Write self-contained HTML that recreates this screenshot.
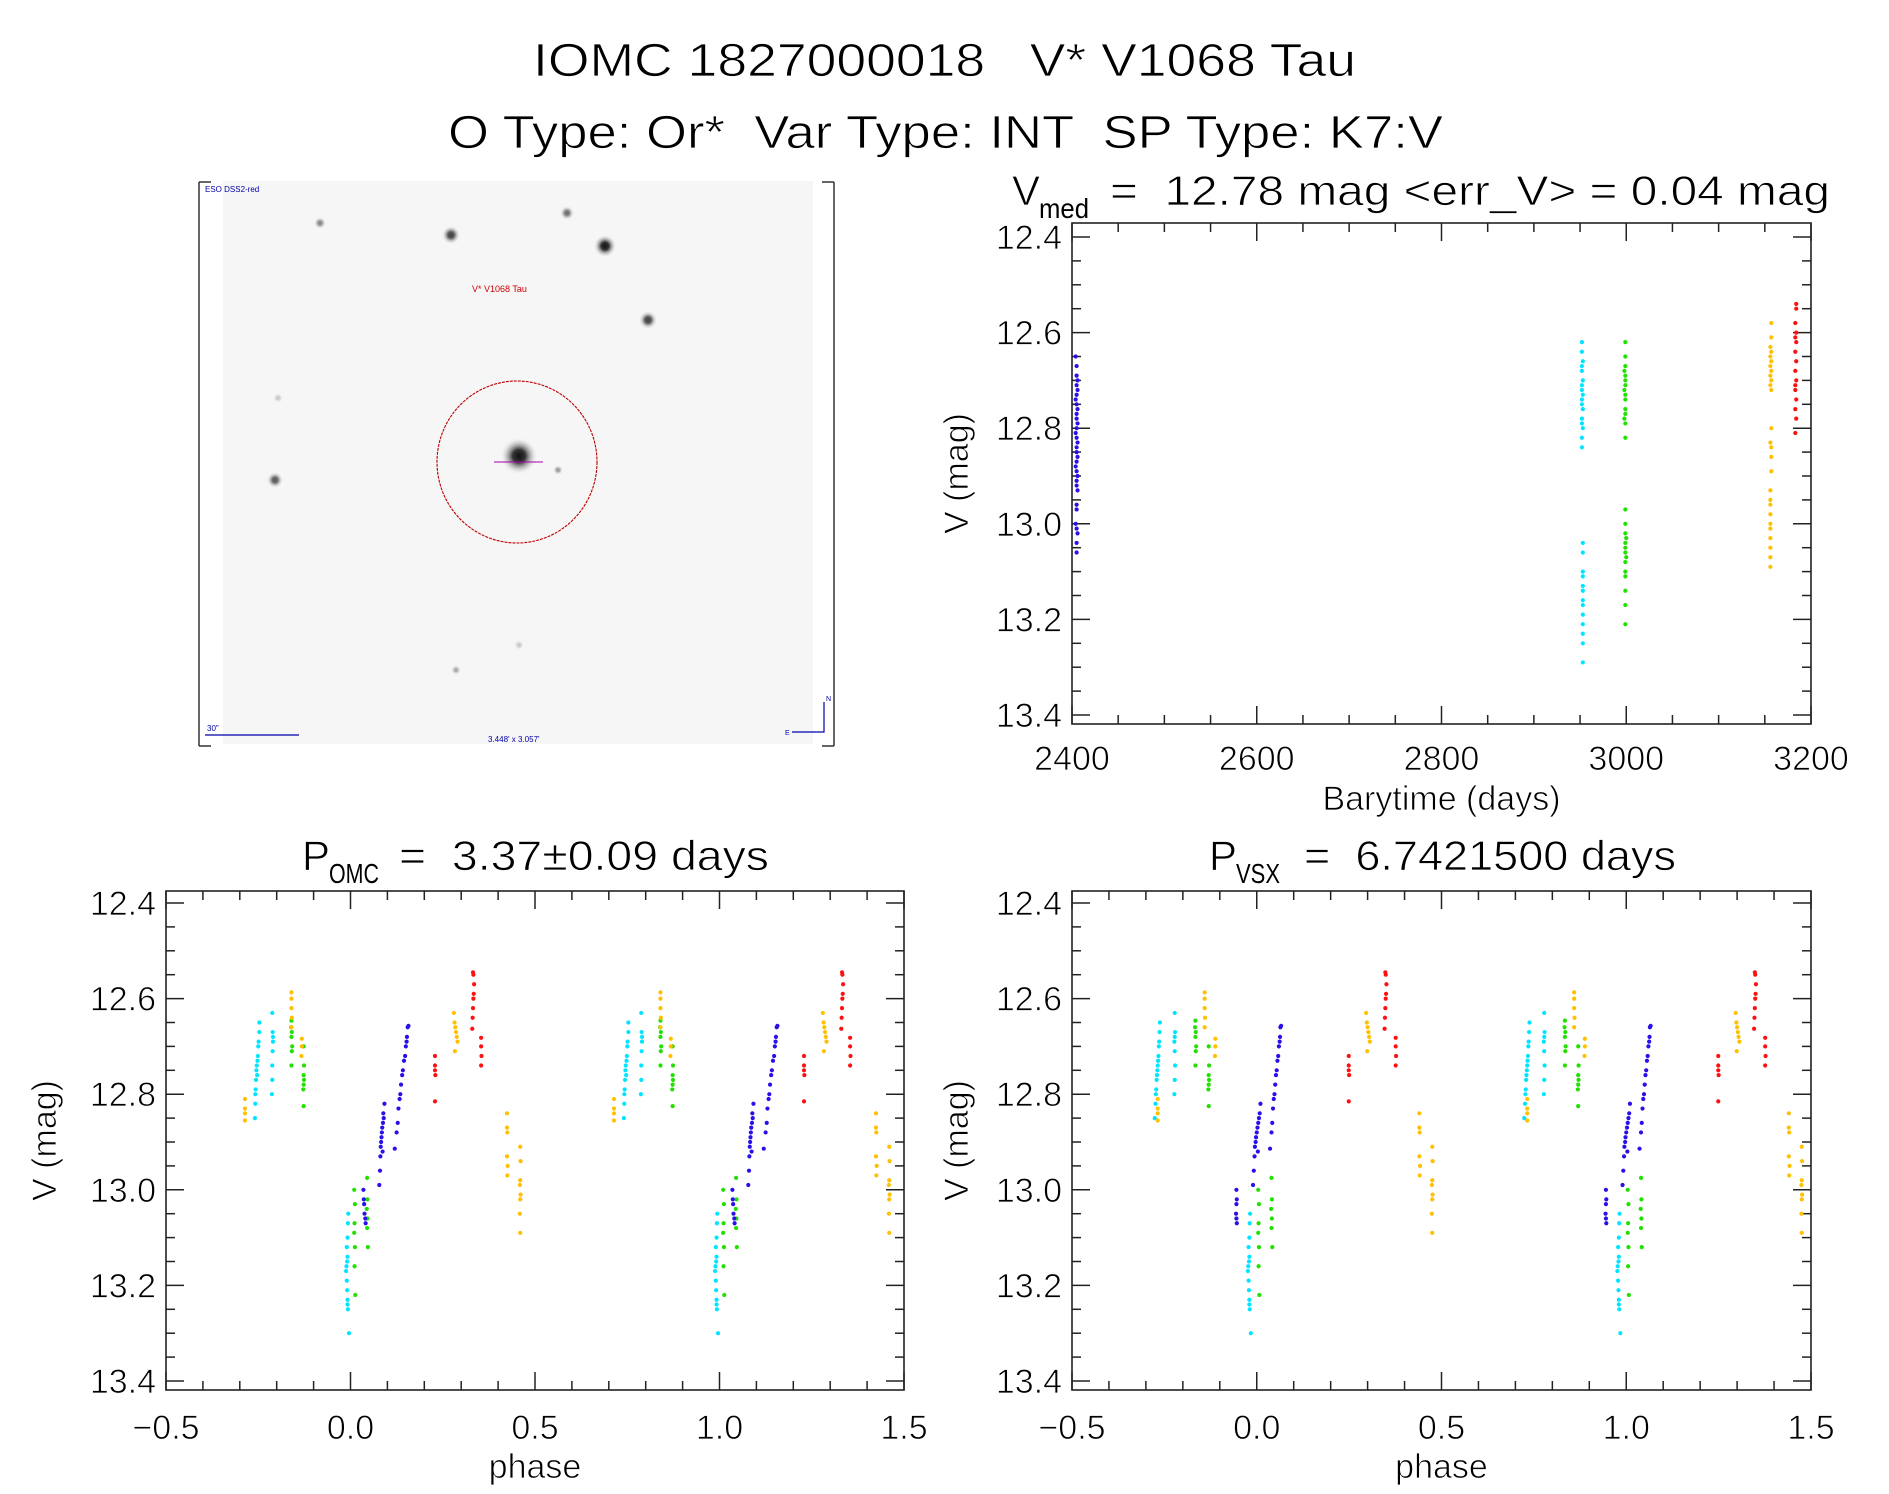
<!DOCTYPE html>
<html><head><meta charset="utf-8"><style>
html,body{margin:0;padding:0;background:#fff;}
svg{display:block;font-family:"Liberation Sans",sans-serif;}
text{white-space:pre;}
.thin{stroke:#fff;stroke-width:0.8px;}
</style></head><body>
<svg id="fig" width="1889" height="1494" viewBox="0 0 1889 1494" xmlns="http://www.w3.org/2000/svg">
<defs>
<radialGradient id="star"><stop offset="0" stop-color="#111"/><stop offset="0.35" stop-color="#333"/><stop offset="1" stop-color="#ddd" stop-opacity="0"/></radialGradient>
</defs>
<g fill="#000">
<text class="thin" x="533" y="76" font-size="46" textLength="823" lengthAdjust="spacingAndGlyphs">IOMC 1827000018   V* V1068 Tau</text>
<text class="thin" x="448" y="148" font-size="46" textLength="995" lengthAdjust="spacingAndGlyphs">O Type: Or*  Var Type: INT  SP Type: K7:V</text>
<text class="thin" x="1012" y="205" font-size="42">V</text>
<text x="1039" y="218" font-size="28" textLength="50" lengthAdjust="spacingAndGlyphs">med</text>
<text class="thin" x="1110" y="205" font-size="42" textLength="720" lengthAdjust="spacingAndGlyphs">=  12.78 mag &lt;err_V&gt; = 0.04 mag</text>
<text class="thin" x="302" y="870" font-size="42">P</text>
<text x="329" y="883" font-size="28" textLength="50" lengthAdjust="spacingAndGlyphs">OMC</text>
<text class="thin" x="399" y="870" font-size="42" textLength="370" lengthAdjust="spacingAndGlyphs">=  3.37±0.09 days</text>
<text class="thin" x="1209" y="870" font-size="42">P</text>
<text x="1236" y="883" font-size="28" textLength="44" lengthAdjust="spacingAndGlyphs">VSX</text>
<text class="thin" x="1304" y="870" font-size="42" textLength="372" lengthAdjust="spacingAndGlyphs">=  6.7421500 days</text>
</g>
<g>
<rect x="223" y="181" width="590" height="563" fill="#f6f6f6"/>
<line x1="199" y1="182" x2="199" y2="746" stroke="#333" stroke-width="1.5"/>
<line x1="199" y1="182" x2="211" y2="182" stroke="#333" stroke-width="1.5"/>
<line x1="199" y1="746" x2="211" y2="746" stroke="#333" stroke-width="1.5"/>
<line x1="834" y1="182" x2="834" y2="746" stroke="#333" stroke-width="1.5"/>
<line x1="822" y1="182" x2="834" y2="182" stroke="#333" stroke-width="1.5"/>
<line x1="822" y1="746" x2="834" y2="746" stroke="#333" stroke-width="1.5"/>
<circle cx="320" cy="223" r="6" fill="url(#star)" opacity="0.5"/>
<circle cx="451" cy="235" r="9" fill="url(#star)" opacity="0.8"/>
<circle cx="567" cy="213" r="7" fill="url(#star)" opacity="0.6"/>
<circle cx="605" cy="246" r="11" fill="url(#star)"/>
<circle cx="648" cy="320" r="9" fill="url(#star)" opacity="0.8"/>
<circle cx="275" cy="480" r="8" fill="url(#star)" opacity="0.7"/>
<circle cx="519" cy="456" r="18" fill="url(#star)"/>
<circle cx="558" cy="470" r="5" fill="url(#star)" opacity="0.4"/>
<circle cx="456" cy="670" r="5" fill="url(#star)" opacity="0.35"/>
<circle cx="278" cy="398" r="5" fill="url(#star)" opacity="0.2"/>
<circle cx="519" cy="645" r="5" fill="url(#star)" opacity="0.2"/>
<ellipse cx="517" cy="462" rx="80" ry="81" fill="none" stroke="#b00" stroke-width="1.1" stroke-dasharray="3,1"/>
<line x1="494" y1="462" x2="543" y2="462" stroke="#a0a" stroke-width="1"/>
<text x="472" y="292" font-size="9" fill="#c00">V* V1068 Tau</text>
<text x="205" y="192" font-size="8" fill="#00a">ESO DSS2-red</text>
<text x="207" y="731" font-size="8" fill="#00a">30"</text>
<line x1="205" y1="735" x2="299" y2="735" stroke="#00a" stroke-width="1.2"/>
<text x="488" y="742" font-size="8" fill="#00a">3.448' x 3.057'</text>
<path d="M824 702 L824 732 L792 732" fill="none" stroke="#00a" stroke-width="1.2"/>
<text x="826" y="701" font-size="7" fill="#00a">N</text><text x="785" y="735" font-size="7" fill="#00a">E</text>
</g>
<g id="plots"></g>
</svg>
<script>
// ---- Time series data ----
const tsBlueT = [2404,2405,2405,2406,2405,2406,2405,2404,2405,2406,2405,2405,2406,2405,2404,2405,2406,2405,2405,2406,2405,2404,2405,2406,2405,2405,2406,2405,2405,2404,2405,2406,2405,2405];
const tsBlueV = [12.65,12.67,12.69,12.70,12.71,12.72,12.73,12.74,12.75,12.76,12.77,12.78,12.79,12.80,12.81,12.82,12.83,12.84,12.85,12.86,12.87,12.88,12.89,12.90,12.91,12.92,12.93,12.96,12.97,13.00,13.01,13.02,13.04,13.06];
const tsCyanT = [2952,2952,2953,2952,2952,2953,2952,2952,2953,2952,2952,2953,2952,2952,2953,2952,2952,2953,2953,2953,2953,2953,2953,2953,2953,2953,2953,2953,2953,2953];
const tsCyanV = [12.62,12.64,12.66,12.67,12.68,12.70,12.71,12.72,12.73,12.74,12.75,12.76,12.78,12.79,12.80,12.82,12.84,13.04,13.06,13.10,13.11,13.13,13.14,13.16,13.17,13.19,13.21,13.23,13.25,13.29];
const tsGreenT = [2999,2999,2999,2998,2999,2999,2999,2998,2999,2999,2999,2999,2998,2999,2999,2999,2999,2999,3000,2999,2999,2999,3000,2999,2999,2999,2999,2999,2999];
const tsGreenV = [12.62,12.65,12.67,12.68,12.69,12.70,12.71,12.72,12.73,12.74,12.76,12.77,12.78,12.79,12.82,12.97,13.00,13.02,13.03,13.04,13.05,13.06,13.07,13.08,13.10,13.11,13.14,13.17,13.21];
const tsOrangeT = [3157,3157,3156,3157,3156,3157,3156,3157,3156,3157,3156,3157,3157,3156,3157,3157,3157,3156,3156,3156,3156,3156,3156,3156,3156,3156,3156];
const tsOrangeV = [12.58,12.61,12.63,12.64,12.65,12.66,12.67,12.68,12.69,12.70,12.71,12.72,12.80,12.83,12.84,12.86,12.89,12.93,12.95,12.96,12.98,13.00,13.01,13.03,13.05,13.07,13.09];
const tsRedT = [3184,3184,3183,3184,3183,3184,3183,3184,3183,3184,3183,3183,3184,3183,3184,3183];
const tsRedV = [12.54,12.55,12.58,12.60,12.61,12.62,12.64,12.66,12.68,12.70,12.71,12.72,12.74,12.76,12.78,12.81];

// ---- Phase data (OMC period) ----
const omcCyanP = [-0.247,-0.247,-0.249,-0.250,-0.251,-0.252,-0.254,-0.255,-0.253,-0.256,-0.257,-0.258,-0.258,-0.259,-0.212,-0.211,-0.210,-0.210,-0.211,-0.212,-0.212,-0.213,-0.006,-0.007,-0.008,-0.010,-0.008,-0.009,-0.011,-0.012,-0.010,-0.009,-0.008,-0.008,-0.007,-0.004];
const cyanV = [12.65,12.67,12.69,12.70,12.72,12.73,12.74,12.75,12.76,12.77,12.79,12.80,12.82,12.85,12.63,12.67,12.68,12.69,12.71,12.74,12.77,12.80,13.05,13.07,13.10,13.12,13.14,13.15,13.16,13.17,13.19,13.21,13.23,13.24,13.25,13.30];
const omcGreenP = [-0.160,-0.161,-0.159,-0.160,-0.158,-0.159,-0.160,-0.127,-0.126,-0.127,-0.126,-0.127,-0.128,-0.127,0.010,0.012,0.011,0.010,0.012,0.011,0.013,0.045,0.046,0.044,0.046,0.045,0.047];
const greenV = [12.646,12.66,12.67,12.68,12.70,12.71,12.74,12.70,12.74,12.76,12.77,12.78,12.79,12.825,13.00,13.03,13.07,13.09,13.12,13.16,13.22,12.975,13.02,13.04,13.06,13.08,13.12];
const omcOrangeP = [-0.286,-0.286,-0.286,-0.286,-0.160,-0.160,-0.160,-0.159,-0.160,-0.132,-0.132,-0.133,0.280,0.282,0.284,0.286,0.288,0.290,0.283,0.424,0.424,0.425,0.424,0.426,0.425,0.460,0.461,0.460,0.459,0.461,0.460,0.459,0.460];
const orangeV = [12.81,12.83,12.84,12.855,12.587,12.60,12.62,12.64,12.66,12.684,12.70,12.72,12.63,12.65,12.66,12.67,12.68,12.69,12.71,12.84,12.87,12.88,12.93,12.95,12.97,12.91,12.94,12.98,12.99,13.01,13.02,13.05,13.09];
const omcBlueP = [0.035,0.036,0.037,0.038,0.040,0.041,0.078,0.080,0.082,0.084,0.085,0.086,0.088,0.090,0.083,0.087,0.089,0.092,0.081,0.120,0.125,0.128,0.130,0.133,0.135,0.137,0.140,0.142,0.145,0.148,0.150,0.152,0.155,0.157,0.153];
const blueV = [13.00,13.02,13.03,13.05,13.06,13.07,12.99,12.96,12.91,12.89,12.88,12.87,12.86,12.85,12.90,12.92,12.84,12.82,12.93,12.914,12.88,12.86,12.83,12.81,12.80,12.78,12.76,12.75,12.73,12.72,12.70,12.69,12.66,12.657,12.68];
const omcRedP = [0.229,0.229,0.229,0.230,0.229,0.330,0.331,0.332,0.333,0.334,0.335,0.333,0.332,0.354,0.354,0.355,0.354];
const redV = [12.72,12.74,12.75,12.76,12.815,12.663,12.64,12.62,12.60,12.59,12.57,12.55,12.545,12.682,12.70,12.72,12.74];

// ---- Phase data (VSX period) ----
const vsxCyanP = [-0.262,-0.263,-0.264,-0.265,-0.266,-0.267,-0.268,-0.269,-0.270,-0.271,-0.272,-0.273,-0.274,-0.276,-0.222,-0.221,-0.222,-0.223,-0.222,-0.221,-0.222,-0.223,-0.018,-0.019,-0.020,-0.022,-0.020,-0.021,-0.023,-0.024,-0.022,-0.021,-0.020,-0.020,-0.019,-0.016];
const vsxGreenP = [-0.166,-0.167,-0.165,-0.166,-0.164,-0.165,-0.166,-0.130,-0.129,-0.130,-0.129,-0.130,-0.131,-0.130,0.004,0.006,0.005,0.004,0.006,0.005,0.007,0.040,0.041,0.039,0.041,0.040,0.042];
const vsxOrangeP = [-0.268,-0.268,-0.268,-0.268,-0.141,-0.141,-0.141,-0.140,-0.141,-0.112,-0.112,-0.113,0.296,0.298,0.300,0.302,0.304,0.306,0.299,0.440,0.440,0.441,0.440,0.442,0.441,0.475,0.476,0.475,0.474,0.476,0.475,0.474,0.475];
const vsxBlueP = [-0.055,-0.054,-0.055,-0.056,-0.055,-0.054,-0.010,-0.008,-0.005,-0.002,0.000,0.002,0.004,0.006,-0.003,0.003,0.008,0.010,-0.006,0.036,0.040,0.042,0.044,0.046,0.048,0.050,0.052,0.054,0.056,0.058,0.060,0.062,0.064,0.066,0.063];
const vsxRedP = [0.249,0.249,0.249,0.250,0.249,0.346,0.347,0.348,0.349,0.350,0.351,0.349,0.348,0.376,0.376,0.377,0.376];

const COL = {blue:'#2a10e8', cyan:'#00e5ff', green:'#22e000', orange:'#ffc000', red:'#ff1010'};
const NS = 'http://www.w3.org/2000/svg';
const root = document.getElementById('plots');
function mk(tag, attrs, parent){const e=document.createElementNS(NS,tag);for(const k in attrs)e.setAttribute(k,attrs[k]);(parent||root).appendChild(e);return e;}

function panel(name, box, xDom, yDom, xMaj, xMin, yMaj, yMin, xFmt, xTitle, yTitleX){
  const g = mk('g',{});
  
  
  const xs = v => box.x0 + (v - xDom[0])/(xDom[1]-xDom[0])*(box.x1-box.x0);
  const ys = v => box.yt + (v - yDom[0])/(yDom[1]-yDom[0])*(box.yb-box.yt);
  const fr = mk('rect',{x:box.x0,y:box.y0,width:box.x1-box.x0,height:box.y1-box.y0,fill:'none',stroke:'#222','stroke-width':1.6},g);
  
  
  const tk = mk('g',{stroke:'#222','stroke-width':1.5},g);
  const eps=1e-9;
  for(let v=xDom[0]; v<=xDom[1]+eps; v+=xMin){
    const maj = Math.abs(Math.round(v/xMaj)*xMaj - v) < xMin*0.01;
    const L = maj?18:9, x=xs(v);
    mk('line',{x1:x,y1:box.y1,x2:x,y2:box.y1-L},tk);
    mk('line',{x1:x,y1:box.y0,x2:x,y2:box.y0+L},tk);
    if(maj){
      const t = mk('text',{x:x,y:box.lblY,'font-size':34,'text-anchor':'middle',fill:'#000',class:'thin'},g);
      
      
      t.textContent = xFmt(v);
    }
  }
  for(let v=yDom[0]; v<=yDom[1]+eps; v+=yMin){
    const maj = Math.abs(Math.round(v/yMaj)*yMaj - v) < yMin*0.01;
    const L = maj?18:9, y=ys(v);
    mk('line',{x1:box.x0,y1:y,x2:box.x0+L,y2:y},tk);
    mk('line',{x1:box.x1,y1:y,x2:box.x1-L,y2:y},tk);
    if(maj){
      const t = mk('text',{x:box.x0-10,y:y+12,'font-size':34,'text-anchor':'end',fill:'#000',class:'thin'},g);
      
      
      t.textContent = v.toFixed(1);
    }
  }
  const xt = mk('text',{x:(box.x0+box.x1)/2,y:box.xtY,'font-size':34,'text-anchor':'middle',fill:'#000',class:'thin'},g);
  
  
  xt.textContent = xTitle;
  const yc = (box.y0+box.y1)/2;
  const yt = mk('text',{x:yTitleX,y:yc,'font-size':34,'text-anchor':'middle',fill:'#000',class:'thin',transform:`rotate(-90 ${yTitleX} ${yc})`},g);
  
  
  yt.textContent = 'V (mag)';
  return {g, xs, ys};
}
function dots(p, name, xArr, yArr, color, repeat){
  const g = mk('g',{fill:color},p.g);
  
  
  for(let i=0;i<xArr.length;i++){
    const shifts = repeat ? [0,1] : [0];
    for(const s of shifts){
      const xv = xArr[i]+s;
      if(repeat && (xv < -0.5 || xv > 1.5)) continue;
      const c = mk('circle',{cx:p.xs(xv),cy:p.ys(yArr[i]),r:2.1},g);
      
      
    }
  }
}
const phFmt = v => { const w = Math.abs(v)<1e-9?0:v; return w < 0 ? '\u2212'+Math.abs(w).toFixed(1) : w.toFixed(1); };

const ts = panel('lightcurve-plot',{x0:1072,x1:1811,y0:223,y1:724,yt:237,yb:715,lblY:770,xtY:810},[2400,3200],[12.4,13.4],200,50,0.2,0.05,v=>Math.round(v).toString(),'Barytime (days)',968);
dots(ts,'series-blue',tsBlueT,tsBlueV,COL.blue,false);
dots(ts,'series-cyan',tsCyanT,tsCyanV,COL.cyan,false);
dots(ts,'series-green',tsGreenT,tsGreenV,COL.green,false);
dots(ts,'series-orange',tsOrangeT,tsOrangeV,COL.orange,false);
dots(ts,'series-red',tsRedT,tsRedV,COL.red,false);

const om = panel('omc-phase-plot',{x0:166,x1:904,y0:891,y1:1390,yt:903,yb:1381,lblY:1439,xtY:1478},[-0.5,1.5],[12.4,13.4],0.5,0.1,0.2,0.05,phFmt,'phase',56);
dots(om,'omc-cyan',omcCyanP,cyanV,COL.cyan,true);
dots(om,'omc-green',omcGreenP,greenV,COL.green,true);
dots(om,'omc-orange',omcOrangeP,orangeV,COL.orange,true);
dots(om,'omc-blue',omcBlueP,blueV,COL.blue,true);
dots(om,'omc-red',omcRedP,redV,COL.red,true);

const vs = panel('vsx-phase-plot',{x0:1072,x1:1811,y0:891,y1:1390,yt:903,yb:1381,lblY:1439,xtY:1478},[-0.5,1.5],[12.4,13.4],0.5,0.1,0.2,0.05,phFmt,'phase',968);
dots(vs,'vsx-cyan',vsxCyanP,cyanV,COL.cyan,true);
dots(vs,'vsx-green',vsxGreenP,greenV,COL.green,true);
dots(vs,'vsx-orange',vsxOrangeP,orangeV,COL.orange,true);
dots(vs,'vsx-blue',vsxBlueP,blueV,COL.blue,true);
dots(vs,'vsx-red',vsxRedP,redV,COL.red,true);
</script>
</body></html>
